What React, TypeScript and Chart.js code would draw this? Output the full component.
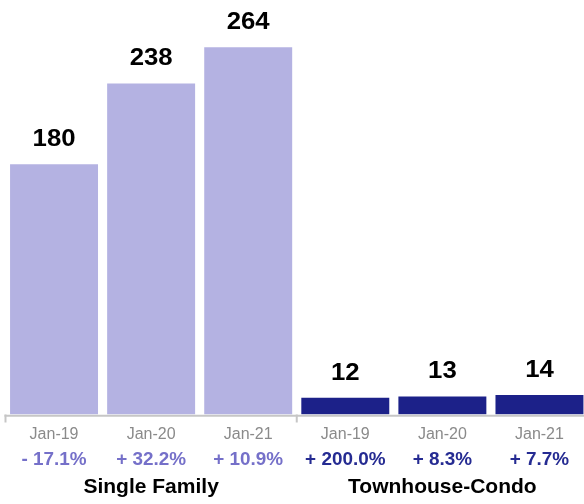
import React, { useEffect, useRef } from "react";
import { Chart, registerables } from "chart.js";

Chart.register(...registerables);

const groupNames = ["Single Family", "Townhouse-Condo"];
const periods = ["Jan-19", "Jan-20", "Jan-21"];
const singleFamily = [180, 238, 264];
const townhouseCondo = [12, 13, 14];
const singleFamilyChange = ["- 17.1%", "+ 32.2%", "+ 10.9%"];
const townhouseCondoChange = ["+ 200.0%", "+ 8.3%", "+ 7.7%"];

const LIGHT = "#b4b2e2";
const DARK = "#1c2189";
const LIGHT_TXT = "#7570c9";
const DARK_TXT = "#252b92";
const FONT = '"Liberation Sans", Arial, Helvetica, sans-serif';

export default function App() {
  const ref = useRef<HTMLCanvasElement | null>(null);

  useEffect(() => {
    if (!ref.current) return;
    const labels = [...periods, ...periods];
    const values = [...singleFamily, ...townhouseCondo];
    const colors = [...singleFamily.map(() => LIGHT), ...townhouseCondo.map(() => DARK)];
    const changes = [...singleFamilyChange, ...townhouseCondoChange];
    const changeColors = [
      ...singleFamilyChange.map(() => LIGHT_TXT),
      ...townhouseCondoChange.map(() => DARK_TXT),
    ];

    const wide = (ctx: any, text: string, x: number, y: number, sx: number) => {
      ctx.save();
      ctx.translate(x, y);
      ctx.scale(sx, 1);
      ctx.fillText(text, 0, 0);
      ctx.restore();
    };

    const labelPlugin = {
      id: "customLabels",
      afterDatasetsDraw(chart: any) {
        const ctx = chart.ctx;
        const area = chart.chartArea;
        const B = area.bottom;
        const xScale = chart.scales.x;
        const meta = chart.getDatasetMeta(0);
        ctx.save();
        // axis line
        ctx.strokeStyle = "#c6c6c6";
        ctx.lineWidth = 2;
        ctx.beginPath();
        ctx.moveTo(area.left - 1, B + 1.2);
        ctx.lineTo(area.right + 2, B + 1.2);
        ctx.stroke();
        // group ticks
        const n = periods.length;
        const step = (area.right - area.left) / labels.length;
        [0, n, 2 * n].forEach((k) => {
          const x = area.left + k * step;
          ctx.beginPath();
          ctx.moveTo(x, B);
          ctx.lineTo(x, B + 8);
          ctx.stroke();
        });
        // value labels
        ctx.textAlign = "center";
        ctx.textBaseline = "alphabetic";
        ctx.fillStyle = "#000";
        ctx.font = `bold 23px ${FONT}`;
        meta.data.forEach((bar: any, i: number) => {
          wide(ctx, String(values[i]), bar.x, bar.y - 18, 1.12);
        });
        // period labels
        labels.forEach((lab, i) => {
          const x = xScale.getPixelForValue(i);
          ctx.font = `16px ${FONT}`;
          ctx.fillStyle = "#8a8a8a";
          ctx.fillText(lab, x, B + 24);
          ctx.font = `bold 18px ${FONT}`;
          ctx.fillStyle = changeColors[i];
          wide(ctx, changes[i], x, B + 50, 1.05);
        });
        // group labels
        ctx.font = `bold 21px ${FONT}`;
        ctx.fillStyle = "#000";
        groupNames.forEach((g, gi) => {
          const x0 = xScale.getPixelForValue(gi * n);
          const x1 = xScale.getPixelForValue(gi * n + n - 1);
          ctx.fillText(g, (x0 + x1) / 2, B + 78.5);
        });
        ctx.restore();
      },
    };

    const chart = new Chart(ref.current, {
      type: "bar",
      data: {
        labels,
        datasets: [
          {
            data: values,
            backgroundColor: colors,
            borderWidth: 0,
            categoryPercentage: 1,
            barPercentage: 0.906,
          },
        ],
      },
      options: {
        animation: false,
        responsive: false,
        maintainAspectRatio: false,
        layout: { padding: { left: 5.5, right: 0, top: 0, bottom: 89.5 } },
        plugins: { legend: { display: false }, tooltip: { enabled: false } },
        scales: {
          x: { display: false },
          y: { display: false, min: 0, max: 298 },
        },
      },
      plugins: [labelPlugin],
    });
    return () => chart.destroy();
  }, []);

  return (
    <div
      style={{
        position: "fixed",
        left: 0,
        top: 0,
        width: 584,
        height: 504,
        overflow: "hidden",
        background: "#fff",
      }}
    >
      <canvas ref={ref} width={588} height={504} style={{ display: "block" }} />
    </div>
  );
}
